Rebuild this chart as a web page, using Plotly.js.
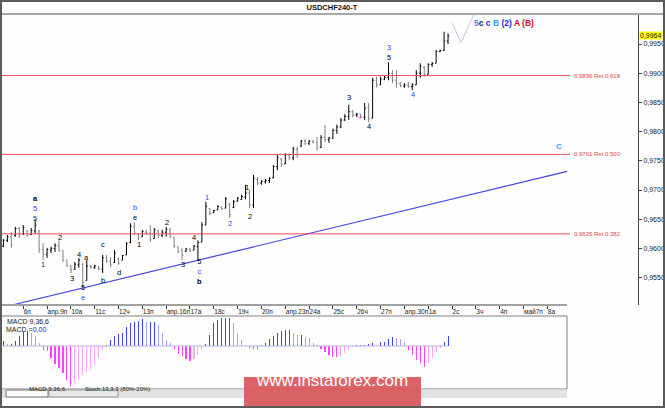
<!DOCTYPE html>
<html>
<head>
<meta charset="utf-8">
<script src="https://cdn.plot.ly/plotly-3.0.1.min.js"></script>
<style>
  body { margin: 0; background: #fff; }
  #wrap { position: relative; width: 665px; height: 408px; }
  #plot { width: 665px; height: 408px; }
  #frame { position: absolute; left: 0; top: 0; width: 665px; height: 408px;
           box-sizing: border-box; border: 2px solid #5a5a5a; pointer-events: none; }
</style>
</head>
<body>
<div id="wrap"><div id="plot"></div><div id="frame"></div></div>
<script>
// USDCHF H4 bars (one value per bar)
const open = [
  .9604,.9614,.9620,.9622,.9634,.9625,.9630,.9624,.9630,.9630,
  .9598,.9590,.9597,.9600,.9605,.9596,.9580,.9570,.9564,.9572,
  .9573,.9545,.9570,.9567,.9568,.9565,.9584,.9578,.9576,.9582,
  .9580,.9589,.9610,.9636,.9625,.9620,.9628,.9626,.9617,.9630,
  .9622,.9628,.9633,.9619,.9603,.9596,.9595,.9598,.9597,.9603,
  .9611,.9640,.9668,.9661,.9666,.9671,.9669,.9676,.9670,.9681,
  .9684,.9688,.9695,.9674,.9718,.9712,.9714,.9716,.9721,.9740,
  .9753,.9745,.9760,.9755,.9770,.9775,.9784,.9780,.9783,.9781,
  .9773,.9790,.9786,.9789,.9802,.9808,.9820,.9826,.9834,.9828,
  .9830,.9825,.9842,.9823,.9888,.9880,.9890,.9893,.9900,.9888,
  .9882,.9878,.9880,.9877,.9880,.9900,.9910,.9898,.9915,.9917,
  .9937,.9939,.9955
];
const high = [
  .9616,.9623,.9628,.9637,.9637,.9640,.9631,.9635,.9650,.9632,
  .9609,.9601,.9603,.9609,.9614,.9597,.9580,.9572,.9577,.9584,
  .9575,.9580,.9572,.9572,.9570,.9589,.9589,.9585,.9597,.9584,
  .9589,.9611,.9643,.9645,.9626,.9632,.9632,.9640,.9635,.9632,
  .9632,.9637,.9635,.9619,.9603,.9601,.9601,.9601,.9606,.9614,
  .9645,.9680,.9669,.9666,.9674,.9672,.9688,.9678,.9683,.9688,
  .9692,.9709,.9700,.9726,.9722,.9717,.9719,.9722,.9743,.9760,
  .9755,.9763,.9763,.9774,.9774,.9786,.9787,.9786,.9786,.9791,
  .9794,.9811,.9791,.9805,.9812,.9823,.9830,.9846,.9837,.9832,
  .9830,.9849,.9849,.9892,.9894,.9894,.9897,.9919,.9905,.9905,
  .9885,.9883,.9885,.9883,.9905,.9917,.9912,.9917,.9919,.9940,
  .9940,.9971,.9968
];
const low = [
  .9602,.9611,.9601,.9620,.9618,.9623,.9620,.9623,.9626,.9592,
  .9580,.9584,.9592,.9594,.9594,.9577,.9568,.9558,.9563,.9567,
  .9532,.9545,.9565,.9565,.9563,.9558,.9575,.9568,.9575,.9572,
  .9580,.9589,.9609,.9623,.9614,.9620,.9623,.9611,.9617,.9618,
  .9620,.9620,.9618,.9601,.9592,.9580,.9594,.9594,.9597,.9580,
  .9611,.9640,.9657,.9661,.9666,.9666,.9669,.9652,.9669,.9680,
  .9683,.9684,.9669,.9669,.9709,.9709,.9711,.9712,.9720,.9734,
  .9740,.9744,.9751,.9751,.9755,.9774,.9777,.9777,.9780,.9768,
  .9772,.9782,.9781,.9788,.9796,.9806,.9818,.9820,.9825,.9825,
  .9823,.9820,.9816,.9823,.9876,.9880,.9888,.9888,.9883,.9875,
  .9876,.9875,.9875,.9871,.9880,.9892,.9894,.9898,.9911,.9917,
  .9936,.9938,.9950
];
const close = [
  .9614,.9620,.9606,.9634,.9625,.9636,.9623,.9631,.9640,.9598,
  .9590,.9598,.9600,.9605,.9597,.9580,.9571,.9563,.9573,.9580,
  .9542,.9570,.9567,.9570,.9565,.9584,.9578,.9573,.9592,.9575,
  .9588,.9608,.9638,.9626,.9618,.9629,.9626,.9615,.9632,.9622,
  .9628,.9633,.9620,.9604,.9595,.9588,.9599,.9596,.9604,.9610,
  .9640,.9672,.9660,.9665,.9672,.9668,.9685,.9658,.9680,.9686,
  .9689,.9695,.9675,.9720,.9712,.9715,.9716,.9720,.9740,.9755,
  .9744,.9760,.9755,.9770,.9760,.9784,.9780,.9783,.9781,.9772,
  .9790,.9786,.9789,.9802,.9808,.9820,.9826,.9834,.9828,.9830,
  .9825,.9840,.9822,.9888,.9880,.9890,.9893,.9900,.9888,.9882,
  .9878,.9880,.9877,.9880,.9900,.9912,.9898,.9915,.9917,.9937,
  .9939,.9955,.9964
];

// MACD(9,36,6) histogram, in points (1e-5)
const macdHist = [
  25,10,10,25,50,70,75,65,50,15,
  -20,-25,-60,-90,-110,-135,-170,-200,-185,-170,-145,-130,-115,-95,-60,-15,
  5,30,50,60,65,95,115,120,125,135,120,120,120,105,65,30,15,
  -15,-40,-50,-65,-75,-65,-45,-20,
  10,55,115,130,140,140,140,115,65,30,5,
  -10,-15,-15,
  5,15,35,50,65,75,80,80,65,55,55,45,40,15,5,
  -15,-30,-45,-55,-55,-50,-35,-20,-5,
  5,5,5,10,15,5,20,20,35,45,40,35,20,
  -20,-45,-70,-85,-105,-85,-60,-30,-10,
  20,50
];

const dayLabels = ['6п','апр.9п','10а','11с','12ч','13п','апр.16п','17а','18с','19ч','20п',
  'апр.23п','24а','25с','26ч','27п','апр.30п','1а','2с','3ч','4п','май7п','8а'];
const firstDayBar = 5;

const priceTicks = [0.955,0.960,0.965,0.970,0.975,0.980,0.985,0.990,0.995];
const lastPrice = 0.9964;

const fibLevels = [0.9896, 0.9761, 0.9625];
const fibRatios = ['0.618', '0.500', '0.382'];

// trend line and projected path (bar index, price)
const trendX = [2.2, 142];
const trendY = [0.95032, 0.97320];
const projX = [113, 115.3, 118.6];
const projY = [0.9986, 0.9953, 1.0002];

// wave marks: text, bar index, price, colour
const BLK = '#000', BLU = '#3c3cff';
const blu = s => '<span style="color:' + BLU + '">' + s + '</span>';
const waves = [
  ['<b>a</b><br>' + blu('5') + '<br><span style="color:#4a3a30">5</span>', 8.2, 0.9669, BLK],
  ['1', 10.0, 0.9572, '#24307a'], ['2', 14.3, 0.9618, BLK], ['3', 17.3, 0.9549, BLK],
  ['4', 19.0, 0.9589, BLK], ['5<br>' + blu('e'), 20.0, 0.9525, BLK],
  ['a', 21.0, 0.9585, BLK], ['c', 25.1, 0.9606, BLK], ['b', 25.1, 0.9546, BLK],
  ['d', 29.1, 0.9558, BLK], [blu('b') + '<br>e', 33.1, 0.9662, BLK],
  ['1', 34.2, 0.9606, BLK], ['2', 41.2, 0.9645, BLK], ['3', 45.2, 0.9572, BLK],
  ['4', 48.0, 0.9618, BLK], ['5<br>' + blu('c') + '<br><b>b</b>', 49.3, 0.9561, BLK],
  ['1', 51.3, 0.9688, BLU], ['2', 57.1, 0.9642, BLU],
  ['1', 61.4, 0.9705, BLK], ['2', 62.1, 0.9654, BLK], ['3', 87.0, 0.9858, BLK],
  ['+', 90.0, 0.9825, '#ff30ff'], ['4', 92.1, 0.9808, BLK],
  [blu('3') + '<br>5', 97.1, 0.9935, BLK], ['4', 103.2, 0.9863, BLU]
];

const idx = open.map((_, i) => i);
const dayTicks = dayLabels.map((_, k) => firstDayBar + 6 * k);

// pixel geometry of the terminal window
const X_LO = -0.605, X_HI = 159.85, X2_HI = 141.96;
const MAIN_BOT = 0.224, MACD_TOP = 0.19467, MACD_RIGHT = 0.88854;

const macdColors = macdHist.map((v, i) => {
  const prev = i ? macdHist[i - 1] : 0;
  if (v >= 0) return v >= prev ? '#4040ff' : '#a4a4ff';
  return v <= prev ? '#ff40ff' : '#ffa4ff';
});

const data = [
  {
    type: 'ohlc', x: idx, open: open, high: high, low: low, close: close,
    increasing: {line: {color: '#000', width: 1}},
    decreasing: {line: {color: '#808080', width: 1}},
    tickwidth: 0.3, hoverinfo: 'skip', xaxis: 'x', yaxis: 'y'
  },
  {
    type: 'scatter', mode: 'lines', x: trendX, y: trendY,
    line: {color: '#4646e6', width: 1.2}, hoverinfo: 'skip', xaxis: 'x', yaxis: 'y'
  },
  {
    type: 'scatter', mode: 'lines', x: projX, y: projY,
    line: {color: '#c4c4ec', width: 1}, hoverinfo: 'skip', xaxis: 'x', yaxis: 'y'
  },
  {
    type: 'scatter', mode: 'lines', x: [idx[0], idx[idx.length - 1]], y: [0, 0],
    line: {color: '#b4b4e0', width: 1}, hoverinfo: 'skip', xaxis: 'x2', yaxis: 'y2'
  },
  {
    type: 'bar', x: idx, y: macdHist, width: 0.28,
    marker: {color: macdColors, line: {width: 0}},
    hoverinfo: 'skip', xaxis: 'x2', yaxis: 'y2'
  }
];

const annotations = waves.map(w => ({
  text: w[0], x: w[1], y: w[2], xref: 'x', yref: 'y', showarrow: false,
  font: {size: 7.5, color: w[3]}, xanchor: 'center', yanchor: 'middle', borderpad: 0
}));

fibLevels.forEach((lvl, k) => annotations.push({
  text: lvl.toFixed(4) + ' Ret ' + fibRatios[k], x: 143.2, y: lvl, xref: 'x', yref: 'y',
  showarrow: false, xanchor: 'left', yanchor: 'middle', font: {size: 6, color: '#ee3c50'}
}));

annotations.push(
  {text: '<span style="color:#6c6cff">5</span><span style="color:#222244">c</span> ' +
         '<span style="color:#2e2ee6">c</span> <span style="color:#2ea0ee">B</span> ' +
         '<span style="color:#1e1ed2">(2)</span> <span style="color:#c8001e">A</span> ' +
         '<span style="color:#d8101e">(B)</span>',
   x: 118.0, y: 0.9986, xref: 'x', yref: 'y', showarrow: false, xanchor: 'left',
   yanchor: 'middle', font: {size: 8.5, weight: 'bold'}},
  {text: '<b>C</b>', x: 140, y: 0.9775, xref: 'x', yref: 'y', showarrow: false,
   font: {size: 8, color: '#2ea0ee'}},
  {text: lastPrice.toFixed(4).replace('.', ','), x: 1, y: lastPrice, xref: 'paper', yref: 'y',
   xanchor: 'left', yanchor: 'middle', showarrow: false, bgcolor: '#ffff00',
   borderpad: 0, xshift: 1, font: {size: 7, color: '#222'}},
  {text: 'MACD 9,36,6', x: 0.0063, y: 0.1813, xref: 'paper', yref: 'paper',
   xanchor: 'left', yanchor: 'middle', showarrow: false, font: {size: 7, color: '#222'}},
  {text: 'MACD =<span style="color:#2222ee">0,00</span>', x: 0.0047, y: 0.16,
   xref: 'paper', yref: 'paper', xanchor: 'left', yanchor: 'middle', showarrow: false,
   font: {size: 7, color: '#222'}},
  {text: 'MACD 9,36,6', x: 0.0408, y: -0.012, xref: 'paper', yref: 'paper',
   showarrow: false, font: {size: 6, color: '#222'}},
  {text: 'Stoch 13,3,3 (80%-20%)', x: 0.1295, y: -0.012, xref: 'paper', yref: 'paper',
   showarrow: false, font: {size: 6, color: '#222'}},
  {text: 'www.instaforex.com', x: 0.5204, y: -0.0093, xref: 'paper', yref: 'paper',
   showarrow: false, font: {size: 17, color: '#ffffff'}}
);

const shapes = fibLevels.map(lvl => ({
  type: 'line', xref: 'x', yref: 'y', x0: X_LO, x1: 142.7, y0: lvl, y1: lvl,
  line: {color: '#f04a5c', width: 1}
}));

shapes.push(
  // line under the title
  {type: 'line', xref: 'paper', yref: 'paper', x0: -0.002, x1: 1.0424, y0: 1.0, y1: 1.0,
   line: {color: '#a8a8a8', width: 2}},
  // time scale line
  {type: 'line', xref: 'paper', yref: 'paper', x0: -0.002, x1: MACD_RIGHT, y0: MAIN_BOT, y1: MAIN_BOT,
   line: {color: '#a0a0a0', width: 2}},
  // MACD window
  {type: 'rect', xref: 'paper', yref: 'paper', x0: -0.002, x1: MACD_RIGHT, y0: 0, y1: MACD_TOP,
   line: {color: '#808080', width: 1}},
  // tab strip
  {type: 'rect', xref: 'paper', yref: 'paper', x0: -0.002, x1: MACD_RIGHT, y0: -0.024, y1: -0.0015,
   fillcolor: '#e2e2e2', line: {width: 0}},
  {type: 'rect', xref: 'paper', yref: 'paper', x0: 0.00785, x1: 0.0738, y0: -0.0213, y1: -0.0027,
   fillcolor: '#fafafa', line: {color: '#777', width: 1}},
  {type: 'rect', xref: 'paper', yref: 'paper', x0: 0.0754, x1: 0.1837, y0: -0.0213, y1: -0.0027,
   fillcolor: '#e8e8e8', line: {color: '#999', width: 1}},
  // watermark
  {type: 'rect', xref: 'paper', yref: 'paper', x0: 0.3815, x1: 0.6593, y0: -0.0507, y1: 0.032,
   fillcolor: '#d9575b', opacity: 0.92, line: {width: 0}, layer: 'above'}
);

const layout = {
  width: 665, height: 408,
  margin: {l: 1, r: 27, t: 14, b: 19},
  paper_bgcolor: '#fdfefd', plot_bgcolor: '#fdfefd',
  font: {family: 'Liberation Sans, Arial, sans-serif', color: '#222'},
  showlegend: false, hovermode: false, dragmode: false,
  title: {text: '<b>USDCHF240-T</b>', x: 0.4992, xanchor: 'center', y: 0.983,
          yanchor: 'middle', yref: 'container', font: {size: 7.5, color: '#111'}},
  xaxis: {
    domain: [0, 1], range: [X_LO, X_HI], anchor: 'y',
    tickvals: dayTicks, ticktext: dayLabels, ticks: 'outside', ticklen: 3,
    tickcolor: '#333', tickfont: {size: 6.5, color: '#222'}, tickangle: 0,
    ticklabelposition: 'outside right',
    showline: false, showgrid: false, zeroline: false,
    rangeslider: {visible: false}, fixedrange: true
  },
  yaxis: {
    domain: [MAIN_BOT, 1], range: [0.95032, 1.000135], side: 'right', anchor: 'x',
    tickvals: priceTicks, ticktext: priceTicks.map(v => v.toFixed(4).replace('.', ',')),
    ticks: 'outside', ticklen: 3, tickcolor: '#444', tickfont: {size: 7, color: '#222'},
    showline: true, linecolor: '#444', linewidth: 1,
    showgrid: false, zeroline: false, fixedrange: true
  },
  xaxis2: {domain: [0, MACD_RIGHT], range: [X_LO, X2_HI], anchor: 'y2', visible: false, fixedrange: true},
  yaxis2: {domain: [0, MACD_TOP], range: [-215, 150], anchor: 'x2', visible: false, fixedrange: true},
  bargap: 0,
  shapes: shapes,
  annotations: annotations
};

Plotly.newPlot('plot', data, layout, {staticPlot: true, displayModeBar: false});
</script>
</body>
</html>
